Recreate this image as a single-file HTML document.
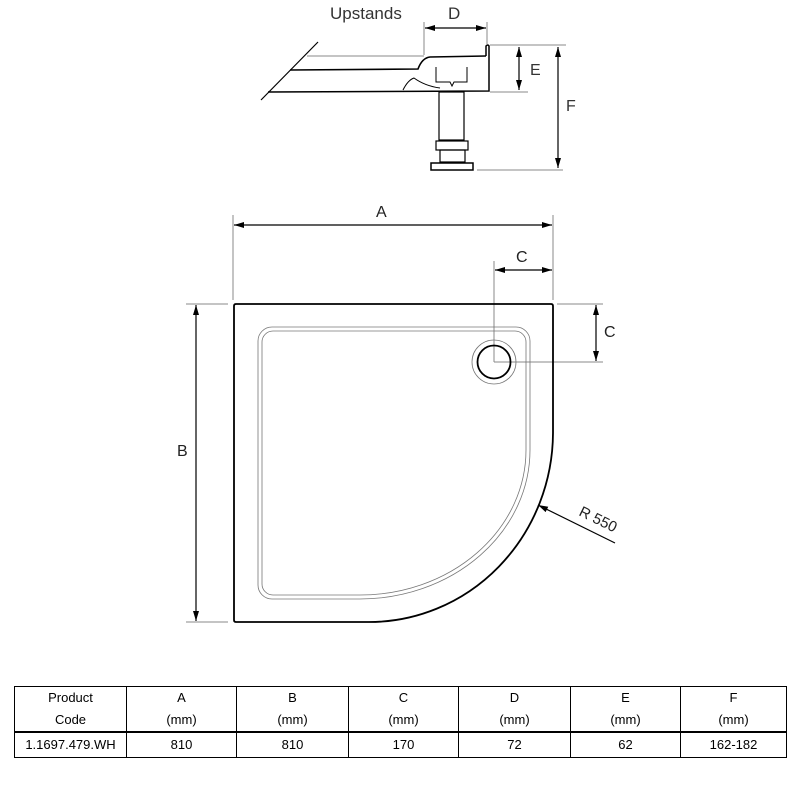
<!DOCTYPE html>
<html><head><meta charset="utf-8"><style>
body{margin:0;background:#fff;width:800px;height:800px;overflow:hidden;position:relative}
svg{position:absolute;left:0;top:0}
table{position:absolute;left:14px;top:686px;width:772px;border-collapse:collapse;font-family:"Liberation Sans",sans-serif;font-size:13px;table-layout:fixed}
td{border:1px solid #000;text-align:center;padding:0;line-height:22px}
tr.h td{height:44px;border-bottom:2px solid #000}
tr.d td{height:24px}
</style></head><body>
<svg width="800" height="800" viewBox="0 0 800 800" font-family="Liberation Sans, sans-serif">
<defs>
<marker id="a" viewBox="0 0 10 6" refX="10" refY="3" markerWidth="10" markerHeight="6" orient="auto-start-reverse" markerUnits="userSpaceOnUse"><path d="M0,0L10,3L0,6z" fill="#000"/></marker>
</defs>
<!-- top section view -->
<text x="330" y="19" font-size="17" fill="#333">Upstands</text>
<text x="448" y="19" font-size="17" fill="#333">D</text>
<g stroke="#888" stroke-width="1" fill="none">
<line x1="424" y1="22" x2="424" y2="55"/><line x1="487" y1="22" x2="487" y2="44"/>
<line x1="490" y1="45" x2="566" y2="45"/><line x1="490" y1="92" x2="528" y2="92"/>
<line x1="477" y1="170" x2="563" y2="170"/>
<line x1="307" y1="56" x2="424" y2="56"/>
</g>
<g stroke="#000" stroke-width="1.2" fill="none">
<line x1="425" y1="28" x2="486" y2="28" marker-start="url(#a)" marker-end="url(#a)"/>
<line x1="519" y1="47" x2="519" y2="90" marker-start="url(#a)" marker-end="url(#a)"/>
<line x1="558" y1="47" x2="558" y2="168" marker-start="url(#a)" marker-end="url(#a)"/>
<line x1="318" y1="42" x2="261" y2="100"/>
<path d="M290,70 L418,69 Q422,58 430,57 L486,56" stroke-width="1.6"/>
<path d="M486,56 L486,46 Q488,44 489,46 L489,91 L268,92" stroke-width="1.5"/>
<path d="M403,90 Q408,80 414,78 Q425,86 440,88 M436,67 L436,82 L450,82 L452,86 L454,82 L467,82 L467,67" stroke-width="1"/>
<rect x="439" y="92" width="25" height="48"/>
<rect x="436" y="141" width="32" height="9"/>
<rect x="440" y="150" width="25" height="12"/>
<rect x="431" y="163" width="42" height="7" stroke-width="1.5"/>
</g>
<text x="530" y="75" font-size="16" fill="#333">E</text>
<text x="566" y="111" font-size="16" fill="#333">F</text>
<!-- plan -->
<g stroke="#888" stroke-width="1" fill="none">
<line x1="233" y1="215" x2="233" y2="300"/><line x1="553" y1="215" x2="553" y2="300"/>
<line x1="494" y1="261" x2="494" y2="362"/>
<line x1="557" y1="304" x2="603" y2="304"/><line x1="494" y1="362" x2="603" y2="362"/>
<line x1="186" y1="304" x2="228" y2="304"/><line x1="186" y1="622" x2="228" y2="622"/>
</g>
<g stroke="#000" stroke-width="1.2" fill="none">
<line x1="234" y1="225" x2="552" y2="225" marker-start="url(#a)" marker-end="url(#a)"/>
<line x1="495" y1="270" x2="552" y2="270" marker-start="url(#a)" marker-end="url(#a)"/>
<line x1="596" y1="305" x2="596" y2="361" marker-start="url(#a)" marker-end="url(#a)"/>
<line x1="196" y1="305" x2="196" y2="621" marker-start="url(#a)" marker-end="url(#a)"/>
<line x1="615" y1="543" x2="538" y2="505" marker-end="url(#a)"/>
<path d="M236,304 L551,304 Q553,304 553,306 L553,433 A184,190 0 0 1 369,622 L236,622 Q234,622 234,620 L234,306 Q234,304 236,304Z" stroke-width="1.8"/>
</g>
<g stroke="#777" stroke-width="0.8" fill="none">
<path d="M272,327 L516,327 A14,14 0 0 1 530,341 L530,450 A170,149 0 0 1 360,599 L272,599 A14,14 0 0 1 258,585 L258,341 A14,14 0 0 1 272,327Z"/>
<path d="M273,331 L515,331 A11,11 0 0 1 526,342 L526,450 A166,145 0 0 1 360,595 L273,595 A11,11 0 0 1 262,584 L262,342 A11,11 0 0 1 273,331Z"/>
<circle cx="494" cy="362" r="22"/>
</g>
<circle cx="494" cy="362" r="16.5" stroke="#000" stroke-width="1.8" fill="none"/>
<line x1="494" y1="350" x2="494" y2="362" stroke="#888"/>
<text x="376" y="217" font-size="16" fill="#222">A</text>
<text x="516" y="262" font-size="16" fill="#222">C</text>
<text x="604" y="337" font-size="16" fill="#222">C</text>
<text x="177" y="456" font-size="16" fill="#222">B</text>
<text x="578" y="515" font-size="15" fill="#222" transform="rotate(26 578 515)">R 550</text>
</svg>
<table>
<colgroup><col style="width:112px"><col style="width:110px"><col style="width:112px"><col style="width:110px"><col style="width:112px"><col style="width:110px"><col style="width:106px"></colgroup>
<tr class="h"><td>Product<br>Code</td><td>A<br>(mm)</td><td>B<br>(mm)</td><td>C<br>(mm)</td><td>D<br>(mm)</td><td>E<br>(mm)</td><td>F<br>(mm)</td></tr>
<tr class="d"><td>1.1697.479.WH</td><td>810</td><td>810</td><td>170</td><td>72</td><td>62</td><td>162-182</td></tr>
</table>
</body></html>
